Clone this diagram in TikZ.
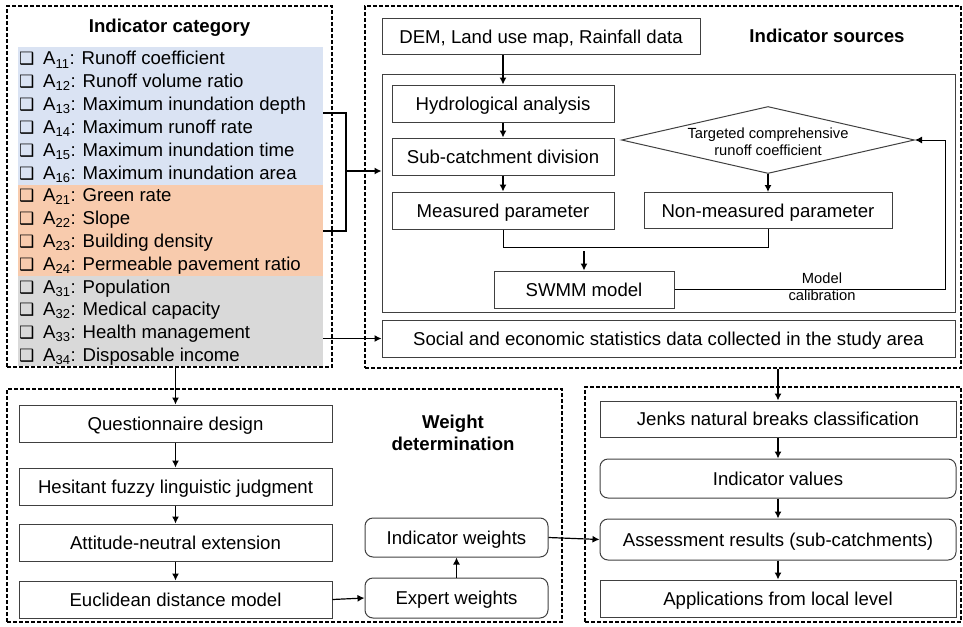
\documentclass[tikz,border=0pt]{standalone}
\usepackage{fontspec}
\setmainfont{Liberation Sans}
\newfontfamily\symfont{DejaVu Sans}
\usetikzlibrary{arrows.meta, positioning, shapes.geometric}

\definecolor{bandblue}{RGB}{218,227,243}
\definecolor{bandorange}{RGB}{248,203,173}
\definecolor{bandgray}{RGB}{217,217,217}
\definecolor{edgegray}{RGB}{64,64,64}

\newcommand{\chkbox}{{\symfont\fontsize{17}{17}\selectfont ❑}}

\begin{document}
\begin{tikzpicture}[>={Latex[length=7pt,width=7pt]}, x=1pt, y=-1pt,
	font=\fontsize{18.6}{22.8}\selectfont,
	dashframe/.style={draw, dash pattern=on 4pt off 2pt, line width=1.2pt, inner sep=0pt},
	box/.style={draw=edgegray, line width=1pt, inner sep=0pt, minimum height=37pt,
		text height=13.3pt, text depth=0pt},
	softbox/.style={box, rounded corners=8pt},
	heading/.style={font=\fontsize{18.6}{22}\selectfont\bfseries, align=center},
	smalltext/.style={font=\fontsize{14.7}{17}\selectfont, align=center},
	itemtext/.style={anchor=base west, inner sep=0pt},
	link/.style={->, line width=1.2pt}]
		\useasboundingbox (0,0) rectangle (963,626);

		% indicator category
		\fill[bandblue] (18,47) rectangle (323,185);
		\fill[bandorange] (18,185) rectangle (323,276);
		\fill[bandgray] (18,276) rectangle (323,366);
		\node[dashframe, minimum width=325pt, minimum height=361pt] (catbox) at (169.5,186.5) {};
		\node[heading] (cattitle) at (169.5,28) {Indicator category};
		\foreach \sub/\txt [count=\i from 0] in {11/Runoff coefficient, 12/Runoff volume ratio,
			13/Maximum inundation depth, 14/Maximum runoff rate, 15/Maximum inundation time,
			16/Maximum inundation area, 21/Green rate, 22/Slope, 23/Building density,
			24/Permeable pavement ratio, 31/Population, 32/Medical capacity,
			33/Health management, 34/Disposable income}
		{
			\node[itemtext] (chk\sub) at (19,{65+22.8*\i}) {\chkbox};
			\node[itemtext] (a\sub) at (43,{65+22.8*\i}) {A\textsubscript{\sub}: \txt};
		}

		% indicator sources
		\node[dashframe, minimum width=596pt, minimum height=362pt] (srcbox) at (663,187) {};
		\node[box, minimum width=318pt, minimum height=36pt] (dem) at (541,37) {DEM, Land use map, Rainfall data};
		\node[heading] (srctitle) at (827,36) {Indicator sources};
		\node[draw=edgegray, line width=1pt, minimum width=573pt, minimum height=238pt] (simbox) at (668.5,193) {};
		\node[box, minimum width=222pt] (hydro) at (503,103.5) {Hydrological analysis};
		\node[box, minimum width=222pt] (subcat) at (503,156.5) {Sub-catchment division};
		\node[box, minimum width=222pt] (measured) at (503,210.5) {Measured parameter};
		\node[draw=edgegray, line width=1pt, diamond, minimum width=293pt, minimum height=67pt, inner sep=0pt] (target) at (768,140) {};
		\node[smalltext] (targettxt) at (768,141.5) {Targeted comprehensive\\runoff coefficient};
		\node[box, minimum width=248pt, minimum height=36pt] (nonmeas) at (768,210.5) {Non-measured parameter};
		\node[box, minimum width=180pt] (swmm) at (584,289.5) {SWMM model};
		\node[smalltext] (calibtxt) at (822,286.5) {Model\\calibration};
		\node[box, minimum width=573pt] (social) at (668.5,338.5) {Social and economic statistics data collected in the study area};

		\draw[link] (dem.south -| hydro.north) -- (hydro.north);
		\draw[link] (hydro.south) -- (subcat.north);
		\draw[link] (subcat.south) -- (measured.north);
		\draw[line width=1pt] (measured.south) -- ++(0,18) -| (nonmeas.south);
		\coordinate (merge) at (584,251);
		\draw[link] (merge) -- (swmm.north);
		\draw[link] (target.south) -- (nonmeas.north);
		\coordinate (loop) at (945,289.5);
		\draw[link, line width=1pt] (swmm.east) -- (loop) |- (target.east);

		% bracket and feeds
		\coordinate (brtop) at (323,113);
		\coordinate (brbot) at (323,231);
		\coordinate (brmid) at (346,171);
		\draw[line width=1.2pt] (brtop) -| (brmid) |- (brbot);
		\draw[link] (brmid) -- (simbox.west |- brmid);
		\coordinate (socstart) at (323,338.5);
		\draw[link] (socstart) -- (social.west);

		% weight determination
		\node[dashframe, minimum width=555pt, minimum height=233pt] (wtbox) at (284.5,505.5) {};
		\node[heading] (wttitle) at (453,433) {Weight\\determination};
		\node[box, minimum width=313pt] (quest) at (175.5,423.5) {Questionnaire design};
		\node[box, minimum width=313pt] (fuzzy) at (175.5,486.5) {Hesitant fuzzy linguistic judgment};
		\node[box, minimum width=313pt] (neutral) at (175.5,542.5) {Attitude-neutral extension};
		\node[box, minimum width=313pt] (euclid) at (175.5,599.5) {Euclidean distance model};
		\node[softbox, minimum width=183pt, minimum height=39pt] (indw) at (456.5,537.5) {Indicator weights};
		\node[softbox, minimum width=183pt, minimum height=40pt] (expw) at (456.5,598) {Expert weights};

		\draw[link] (catbox.south -| quest.north) -- (quest.north);
		\draw[link] (quest.south) -- (fuzzy.north);
		\draw[link] (fuzzy.south) -- (neutral.north);
		\draw[link] (neutral.south) -- (euclid.north);
		\draw[link] (euclid.east) -- (expw.west);
		\draw[link] (expw.north) -- (indw.south);

		% assessment
		\node[dashframe, minimum width=376pt, minimum height=235pt] (resbox) at (773,504.5) {};
		\node[box, minimum width=356pt, minimum height=36pt] (jenks) at (778,419) {Jenks natural breaks classification};
		\node[softbox, minimum width=356pt, minimum height=39pt] (values) at (778,478.5) {Indicator values};
		\node[softbox, minimum width=356pt, minimum height=41pt] (assess) at (778,539.5) {Assessment results (sub-catchments)};
		\node[box, minimum width=356pt] (apps) at (778,598.5) {Applications from local level};

		\draw[link] (srcbox.south -| jenks.north) -- (jenks.north);
		\draw[link] (jenks.south) -- (values.north);
		\draw[link] (values.south) -- (assess.north);
		\draw[link] (assess.south) -- (apps.north);
		\draw[link] (indw.east) -- (assess.west);
	\end{tikzpicture}
\end{document}
